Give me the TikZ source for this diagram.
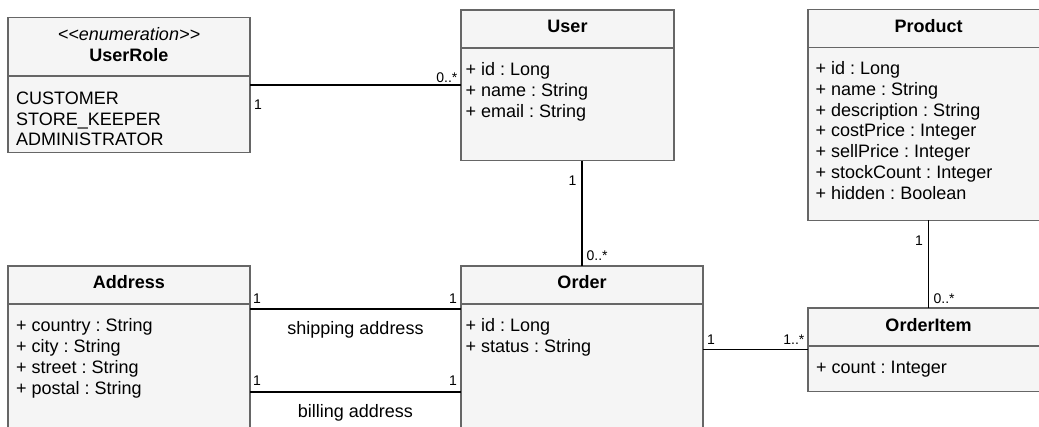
\documentclass[tikz,border=0pt]{standalone}
\usepackage{fontspec}
\setmainfont{Liberation Sans}
\frenchspacing
\definecolor{boxfill}{HTML}{F5F5F5}
\definecolor{boxline}{HTML}{666666}

\begin{document}
\begin{tikzpicture}
[x=1pt, y=-1pt,
 classbox/.style={draw=boxline, fill=boxfill, line width=1.2pt,
                  anchor=north west, inner sep=0pt, outer sep=0pt},
 divider/.style={draw=boxline, line width=1.2pt},
 title/.style={font=\fontsize{18}{21}\selectfont\bfseries, anchor=base, inner sep=0pt},
 attr/.style={font=\fontsize{18}{21}\selectfont, anchor=base west, inner sep=0pt},
 role/.style={font=\fontsize{18}{21}\selectfont, anchor=base, inner sep=0pt},
 assoc/.style={draw=black, line width=1.3pt},
 mult/.style={font=\fontsize{14}{16}\selectfont, inner sep=0pt}]
\useasboundingbox (0,0) rectangle (1039,427);
\clip (0,0) rectangle (1039,427);

% classes
\node[classbox, minimum width=242pt, minimum height=135.4pt] (userrole) at (8,17.3) {};
\node[classbox, minimum width=213pt, minimum height=150.7pt] (user) at (461,10) {};
\node[classbox, minimum width=241pt, minimum height=211pt] (product) at (808,9.5) {};
\node[classbox, minimum width=242pt, minimum height=180pt] (address) at (8,266) {};
\node[classbox, minimum width=242pt, minimum height=180pt] (order) at (461,266) {};
\node[classbox, minimum width=241pt, minimum height=83.5pt] (orderitem) at (808,308) {};

% header lines
\draw[divider] ([yshift=-58.7pt]userrole.north west) -- ([yshift=-58.7pt]userrole.north east);
\foreach \cls in {user, product, address, order, orderitem}
  \draw[divider] ([yshift=-38pt]\cls.north west) -- ([yshift=-38pt]\cls.north east);

% names
\node[role, font=\fontsize{18}{21}\selectfont\itshape] at ([yshift=-23pt]userrole.north)
  {<\kern0pt<enumeration>\kern0pt>};
\node[title] at ([yshift=-44pt]userrole.north) {UserRole};
\node[title] at ([yshift=-23pt]user.north) {User};
\node[title] at ([yshift=-23pt]product.north) {Product};
\node[title] at ([yshift=-23pt]address.north) {Address};
\node[title] at ([yshift=-23pt]order.north) {Order};
\node[title] at ([yshift=-23.5pt]orderitem.north) {OrderItem};

% members
\foreach \txt [count=\i from 0] in {CUSTOMER, STORE\_KEEPER, ADMINISTRATOR}
  \node[attr] at (16, {104.3+20.8*\i}) {\txt};
\foreach \txt [count=\i from 0] in {+ id : Long, + name : String, + email : String}
  \node[attr] at (465.5, {75.5+20.8*\i}) {\txt};
\foreach \txt [count=\i from 0] in {+ id : Long, + name : String, + description : String,
    + costPrice : Integer, + sellPrice : Integer, + stockCount : Integer, + hidden : Boolean}
  \node[attr] at (815.5, {74.5+20.8*\i}) {\txt};
\foreach \txt [count=\i from 0] in {+ country : String, + city : String, + street : String,
    + postal : String}
  \node[attr] at (16, {332+20.8*\i}) {\txt};
\foreach \txt [count=\i from 0] in {+ id : Long, + status : String}
  \node[attr] at (465.5, {332+20.8*\i}) {\txt};
\node[attr] at (816, 373.5) {+ count : Integer};

% associations
\coordinate (shipL) at ([yshift=-43pt]address.north east);
\coordinate (billL) at ([yshift=-126pt]address.north east);

\draw[assoc] (userrole.east) -- (userrole.east -| user.west)
  node[mult, pos=0, anchor=base west, xshift=3.5pt, yshift=-25pt] {1}
  node[mult, pos=1, anchor=base east, xshift=-3pt, yshift=2pt] {0..*};
\draw[assoc] (user.south -| order.north) -- (order.north)
  node[mult, pos=0, anchor=base east, xshift=-5pt, yshift=-25pt] {1}
  node[mult, pos=1, anchor=base west, xshift=4pt, yshift=5pt] {0..*};
\draw[assoc] (product.south) -- (orderitem.north)
  node[mult, pos=0, anchor=base east, xshift=-5pt, yshift=-25pt] {1}
  node[mult, pos=1, anchor=base west, xshift=4.5pt, yshift=4.5pt] {0..*};
\draw[assoc] (orderitem.west -| order.east) -- (orderitem.west)
  node[mult, pos=0, anchor=base west, xshift=3.5pt, yshift=5pt] {1}
  node[mult, pos=1, anchor=base east, xshift=-3pt, yshift=5pt] {1..*};
\draw[assoc] (shipL) -- (shipL -| order.west)
  node[mult, pos=0, anchor=base west, xshift=2.5pt, yshift=5.5pt] {1}
  node[mult, pos=1, anchor=base east, xshift=-3.5pt, yshift=5.5pt] {1}
  node[role, midway, yshift=-26pt] {shipping address};
\draw[assoc] (billL) -- (billL -| order.west)
  node[mult, pos=0, anchor=base west, xshift=2.5pt, yshift=6pt] {1}
  node[mult, pos=1, anchor=base east, xshift=-3.5pt, yshift=6pt] {1}
  node[role, midway, yshift=-26pt] {billing address};
\end{tikzpicture}
\end{document}
